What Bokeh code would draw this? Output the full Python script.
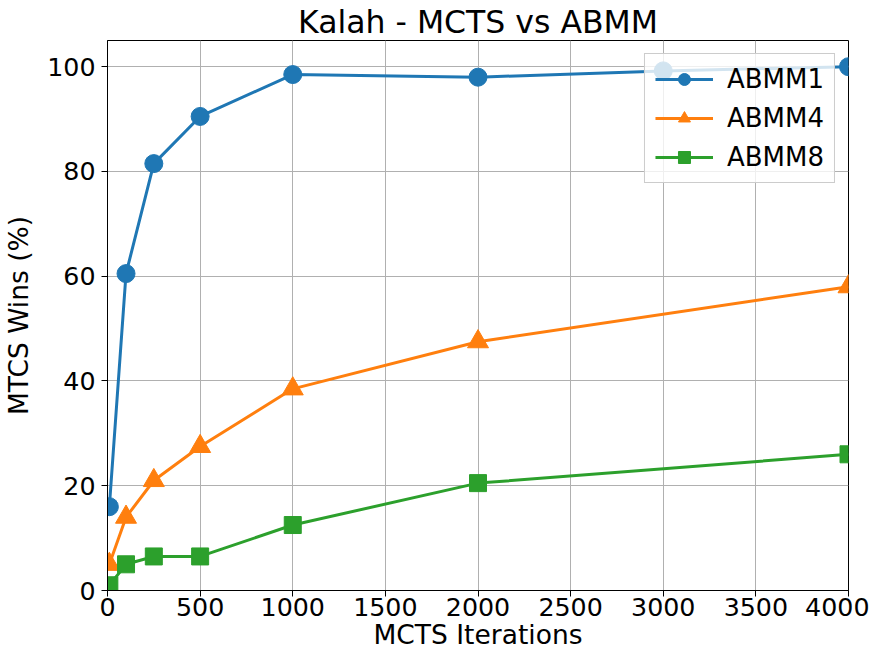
from bokeh.plotting import figure
from bokeh.models import Range1d, FixedTicker
from bokeh.embed import file_html
from bokeh.resources import INLINE

x_abmm1 = [10, 100, 250, 500, 1000, 2000, 3000, 4000]
y_abmm1 = [16, 60.5, 81.5, 90.5, 98.5, 98, 99.2, 100]
x_abmm4 = [10, 100, 250, 500, 1000, 2000, 4000]
y_abmm4 = [5, 14, 21, 27.5, 38.5, 47.5, 58]
x_abmm8 = [10, 100, 250, 500, 1000, 2000, 4000]
y_abmm8 = [1, 5, 6.5, 6.5, 12.5, 20.5, 26]
x_ticks = [0, 500, 1000, 1500, 2000, 2500, 3000, 3500, 4000]
y_ticks = [0, 20, 40, 60, 80, 100]

FONT = "DejaVu Sans"
p = figure(width=869, height=652, output_backend="svg", toolbar_location=None,
           x_range=Range1d(0, 4000), y_range=Range1d(0, 105),
           min_border_left=107, min_border_right=21, min_border_top=40, min_border_bottom=10)
p.title.text = "Kalah - MCTS vs ABMM"
p.title.text_font = FONT
p.title.text_font_size = "31.5px"
p.title.text_font_style = "normal"
p.title.align = "center"
p.title.text_color = "black"
p.title.standoff = 2

colors = ["#1f77b4", "#ff7f0e", "#2ca02c"]
series = [("ABMM1", x_abmm1, y_abmm1, "circle", 18),
          ("ABMM4", x_abmm4, y_abmm4, "triangle", 21),
          ("ABMM8", x_abmm8, y_abmm8, "square", 17)]
for (name, xs, ys, marker, size), c in zip(series, colors):
    p.line(xs, ys, line_color=c, line_width=3, legend_label=name)
    p.scatter(xs, ys, marker=marker, size=size, fill_color=c, line_color=c, legend_label=name)

p.xaxis.ticker = FixedTicker(ticks=x_ticks)
p.yaxis.ticker = FixedTicker(ticks=y_ticks)
p.xaxis.axis_label = "MCTS Iterations"
p.yaxis.axis_label = "MTCS Wins (%)"
for ax in [p.xaxis[0], p.yaxis[0]]:
    ax.axis_label_text_font = FONT
    ax.axis_label_text_font_size = "26.5px"
    ax.axis_label_text_font_style = "normal"
    ax.axis_label_text_color = "black"
    ax.major_label_text_font = FONT
    ax.major_label_text_font_size = "25.3px"
    ax.major_label_text_color = "black"
    ax.axis_line_color = "black"
    ax.major_tick_line_color = "black"
    ax.major_tick_out = 6
    ax.major_tick_in = 0
    ax.minor_tick_line_color = None
p.xaxis.axis_label_standoff = 0
p.xaxis.major_label_standoff = 1
p.yaxis.axis_label_standoff = 10
p.yaxis.major_label_standoff = 6

p.grid.grid_line_color = "#b0b0b0"
p.grid.grid_line_width = 1
p.outline_line_color = "black"
p.outline_line_width = 1
p.outline_line_alpha = 1

p.legend.location = "top_right"
p.legend.label_text_font = FONT
p.legend.label_text_font_size = "26px"
p.legend.label_text_color = "black"
p.legend.background_fill_alpha = 0.8
p.legend.border_line_color = "#cccccc"
p.legend.border_line_alpha = 1
p.legend.glyph_width = 58
p.legend.glyph_height = 30
p.legend.spacing = 9
p.legend.padding = 10
p.legend.margin = 13
p.legend.label_standoff = 14

open("out.html", "w").write(file_html(p, INLINE))
